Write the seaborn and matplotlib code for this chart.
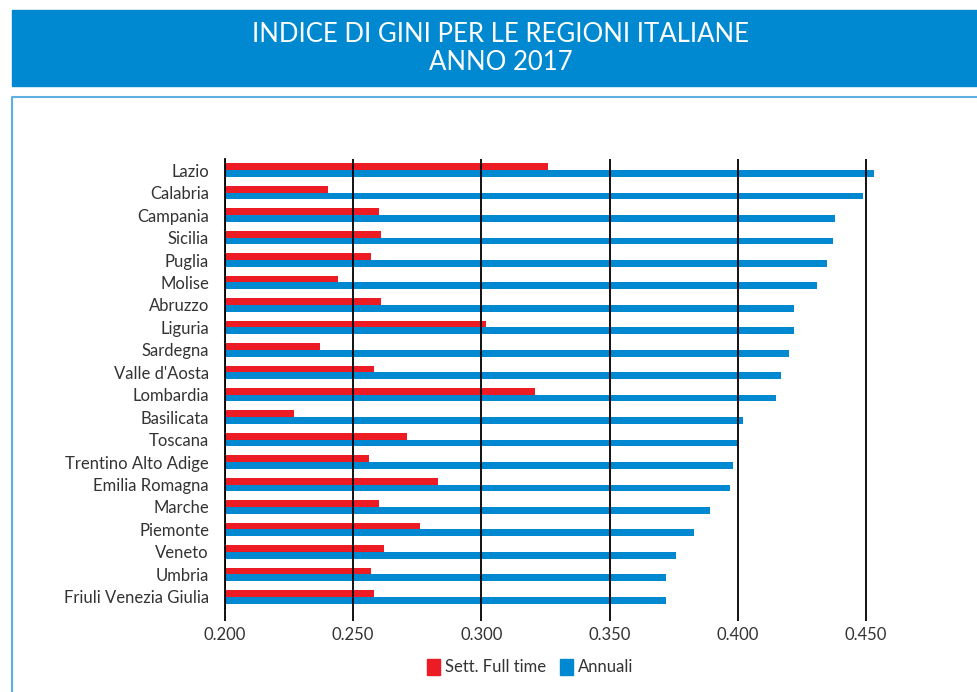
import pandas as pd
import matplotlib.pyplot as plt
import seaborn as sns
from matplotlib.patches import Rectangle
from matplotlib.lines import Line2D

regioni = ["Lazio", "Calabria", "Campania", "Sicilia", "Puglia", "Molise", "Abruzzo",
           "Liguria", "Sardegna", "Valle d'Aosta", "Lombardia", "Basilicata", "Toscana",
           "Trentino Alto Adige", "Emilia Romagna", "Marche", "Piemonte", "Veneto",
           "Umbria", "Friuli Venezia Giulia"]
full_time = [0.326, 0.240, 0.260, 0.261, 0.257, 0.244, 0.261,
             0.302, 0.237, 0.258, 0.321, 0.227, 0.271,
             0.256, 0.283, 0.260, 0.276, 0.262, 0.257, 0.258]
annuali = [0.453, 0.449, 0.438, 0.437, 0.435, 0.431, 0.422,
           0.422, 0.420, 0.417, 0.415, 0.402, 0.400,
           0.398, 0.397, 0.389, 0.383, 0.376, 0.372, 0.372]
serie = ["Sett. Full time", "Annuali"]

df = pd.DataFrame({
    "regione": regioni * 2,
    "valore": full_time + annuali,
    "serie": [serie[0]] * len(regioni) + [serie[1]] * len(regioni),
})

RED = "#ED1C24"
BLUE = "#0089D0"

sns.set_style("white")
plt.rcParams["font.family"] = ["Lato", "DejaVu Sans"]

fig = plt.figure(figsize=(9.78, 6.92), dpi=100)

# title banner
fig.patches.append(Rectangle((12 / 978, 1 - 86 / 692), 1, 76 / 692,
                             transform=fig.transFigure, color=BLUE, zorder=0))
fig.text(0.512, 1 - 34 / 692, "INDICE DI GINI PER LE REGIONI ITALIANE", color="white",
         ha="center", va="center", fontsize=18.5)
fig.text(0.512, 1 - 62 / 692, "ANNO 2017", color="white",
         ha="center", va="center", fontsize=18.5)

# light blue frame
fig.lines.append(Line2D([12 / 978, 12 / 978, 1], [0, 1 - 97 / 692, 1 - 97 / 692],
                        transform=fig.transFigure, color="#5FB0E2", lw=1.5))

ax = fig.add_axes([225 / 978, 1 - 608 / 692, (880 - 225) / 978, (608 - 159) / 692])
sns.barplot(data=df, y="regione", x="valore", hue="serie", palette=[RED, BLUE],
            orient="h", width=0.6, saturation=1, linewidth=0, ax=ax, legend=False)

ax.set_xlim(0.2, 0.4555)
ax.set_xticks([0.2, 0.25, 0.3, 0.35, 0.4, 0.45])
ax.set_xticklabels(["0.200", "0.250", "0.300", "0.350", "0.400", "0.450"])
ax.set_xlabel("")
ax.set_ylabel("")
ax.set_axisbelow(False)
ax.xaxis.grid(True, color="black", lw=1.3)
ax.yaxis.grid(False)
for s in ["top", "right", "bottom"]:
    ax.spines[s].set_visible(False)
ax.spines["left"].set_color("black")
ax.spines["left"].set_linewidth(1.3)
ax.tick_params(axis="x", bottom=True, length=9, width=1.3, color="black",
               labelsize=12, labelcolor="#333333", pad=5)
ax.tick_params(axis="y", left=False, labelsize=12, labelcolor="#333333", pad=8)

handles = [Rectangle((0, 0), 1, 1, color=RED), Rectangle((0, 0), 1, 1, color=BLUE)]
fig.legend(handles, serie, loc="center", bbox_to_anchor=(0.542, 1 - 667 / 692),
           ncol=2, frameon=False, handlelength=0.8, handleheight=1.1,
           handletextpad=0.3, columnspacing=0.8, fontsize=12,
           labelcolor="#333333")

plt.savefig("out.png", dpi=100)
